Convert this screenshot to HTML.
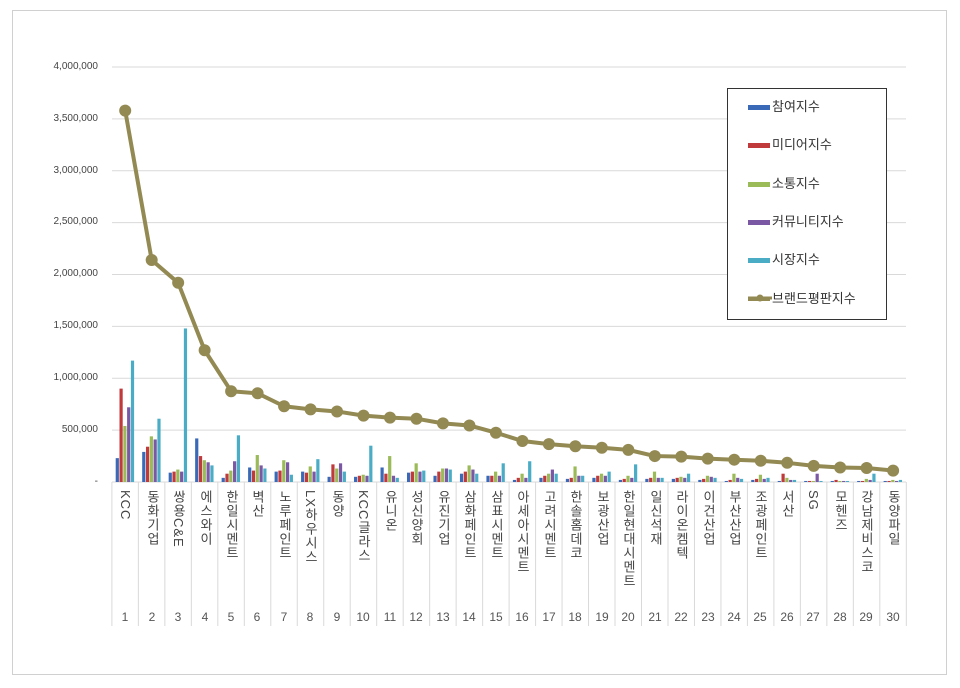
<!DOCTYPE html>
<html><head><meta charset="utf-8"><style>
body{margin:0;background:#fff;width:960px;height:688px;overflow:hidden;font-family:"Liberation Sans","Noto Sans CJK KR",sans-serif}
#frame{position:absolute;left:12px;top:10px;width:935px;height:665px;border:1px solid #d0d0d0;box-sizing:border-box}
.yl{position:absolute;right:862px;font-size:10px;color:#444;text-align:right;line-height:10px}
.cl{position:absolute;top:490px;width:26px;writing-mode:vertical-rl;text-orientation:mixed;font-size:13px;color:#444;line-height:26px;letter-spacing:1px}
.cn{position:absolute;top:610px;width:26px;text-align:center;font-size:12px;color:#555}
#legend{position:absolute;left:727px;top:88px;width:160px;height:232px;border:1px solid #333;background:#fff;box-sizing:border-box}
.li{position:absolute;left:20px;font-size:13px;color:#333;height:16px;line-height:16px}
.sw{display:inline-block;width:22px;height:5px;vertical-align:middle;margin-right:2px}
</style></head><body>
<div id="frame"></div>
<svg id="s" width="960" height="688" style="position:absolute;left:0;top:0"></svg>
<div class="yl" style="top:62px">4,000,000</div>
<div class="yl" style="top:114px">3,500,000</div>
<div class="yl" style="top:166px">3,000,000</div>
<div class="yl" style="top:217px">2,500,000</div>
<div class="yl" style="top:269px">2,000,000</div>
<div class="yl" style="top:321px">1,500,000</div>
<div class="yl" style="top:373px">1,000,000</div>
<div class="yl" style="top:425px">500,000</div>
<div class="yl" style="top:477px">-</div>
<div id="labels"></div>
<div id="legend">
<div class="li" style="top:10px"><span class="sw" style="background:#3a6ab7"></span>참여지수</div>
<div class="li" style="top:48px"><span class="sw" style="background:#c0393b"></span>미디어지수</div>
<div class="li" style="top:87px"><span class="sw" style="background:#9bbb59"></span>소통지수</div>
<div class="li" style="top:125px"><span class="sw" style="background:#7a58a4"></span>커뮤니티지수</div>
<div class="li" style="top:163px"><span class="sw" style="background:#4bacc6"></span>시장지수</div>
<div class="li" style="top:202px"><span class="sw" style="background:#938953;height:3px;position:relative"></span>브랜드평판지수</div>
</div>
<div class="cl" style="left:112px">KCC</div><div class="cl" style="left:139px">동화기업</div><div class="cl" style="left:165px">쌍용C&amp;E</div><div class="cl" style="left:192px">에스와이</div><div class="cl" style="left:218px">한일시멘트</div><div class="cl" style="left:244px">벽산</div><div class="cl" style="left:271px">노루페인트</div><div class="cl" style="left:297px">LX하우시스</div><div class="cl" style="left:324px">동양</div><div class="cl" style="left:350px">KCC글라스</div><div class="cl" style="left:377px">유니온</div><div class="cl" style="left:403px">성신양회</div><div class="cl" style="left:430px">유진기업</div><div class="cl" style="left:456px">삼화페인트</div><div class="cl" style="left:483px">삼표시멘트</div><div class="cl" style="left:509px">아세아시멘트</div><div class="cl" style="left:536px">고려시멘트</div><div class="cl" style="left:562px">한솔홈데코</div><div class="cl" style="left:589px">보광산업</div><div class="cl" style="left:615px">한일현대시멘트</div><div class="cl" style="left:642px">일신석재</div><div class="cl" style="left:668px">라이온켐텍</div><div class="cl" style="left:695px">이건산업</div><div class="cl" style="left:721px">부산산업</div><div class="cl" style="left:747px">조광페인트</div><div class="cl" style="left:774px">서산</div><div class="cl" style="left:800px">SG</div><div class="cl" style="left:827px">모헨즈</div><div class="cl" style="left:853px">강남제비스코</div><div class="cl" style="left:880px">동양파일</div>
<div class="cn" style="left:112px">1</div><div class="cn" style="left:139px">2</div><div class="cn" style="left:165px">3</div><div class="cn" style="left:192px">4</div><div class="cn" style="left:218px">5</div><div class="cn" style="left:244px">6</div><div class="cn" style="left:271px">7</div><div class="cn" style="left:297px">8</div><div class="cn" style="left:324px">9</div><div class="cn" style="left:350px">10</div><div class="cn" style="left:377px">11</div><div class="cn" style="left:403px">12</div><div class="cn" style="left:430px">13</div><div class="cn" style="left:456px">14</div><div class="cn" style="left:483px">15</div><div class="cn" style="left:509px">16</div><div class="cn" style="left:536px">17</div><div class="cn" style="left:562px">18</div><div class="cn" style="left:589px">19</div><div class="cn" style="left:615px">20</div><div class="cn" style="left:642px">21</div><div class="cn" style="left:668px">22</div><div class="cn" style="left:695px">23</div><div class="cn" style="left:721px">24</div><div class="cn" style="left:747px">25</div><div class="cn" style="left:774px">26</div><div class="cn" style="left:800px">27</div><div class="cn" style="left:827px">28</div><div class="cn" style="left:853px">29</div><div class="cn" style="left:880px">30</div>
<script>
var s=document.getElementById('s'),h='';
for(var g=0;g<9;g++){var y=67+g*51.875;h+='<line x1="112" x2="906" y1="'+y+'" y2="'+y+'" stroke="#d9d9d9" stroke-width="1"/>';}
for(var i=0;i<=30;i++){var x=111.9+i*26.48;h+='<line x1="'+x+'" x2="'+x+'" y1="482" y2="626" stroke="#d9d9d9" stroke-width="1"/>';}
var B=[[230,900,540,720,1170],[290,340,440,410,610],[90,100,120,100,1480],[420,250,210,190,160],[40,80,110,200,450],[140,110,260,160,130],[100,110,210,190,70],[100,90,150,100,220],[50,170,130,180,100],[50,60,70,60,350],[140,80,250,60,40],[90,100,180,100,110],[60,100,130,130,120],[80,100,160,120,80],[60,60,100,60,180],[20,40,80,40,200],[40,60,80,120,80],[30,40,150,60,60],[40,60,80,60,100],[20,30,60,40,170],[30,40,100,40,40],[30,40,50,40,80],[20,30,60,50,40],[10,20,80,40,30],[20,30,70,30,40],[10,80,40,20,20],[10,10,10,80,10],[10,20,10,10,10],[10,10,30,20,80],[10,10,20,10,20]];
var C=['#3a6ab7','#c0393b','#9bbb59','#7a58a4','#4bacc6'];
var L=[3580,2140,1920,1270,875,855,730,700,680,640,620,610,565,545,475,395,365,345,330,310,250,245,225,215,205,185,155,140,135,110];
var k=0.10375;
for(var i=0;i<30;i++){var cx=125.2+i*26.48;for(var j=0;j<5;j++){var hh=B[i][j]*k;h+='<rect x="'+(cx-9.5+j*3.8)+'" y="'+(482-hh)+'" width="3.2" height="'+hh+'" fill="'+C[j]+'"/>';}}
var p='';for(var i=0;i<30;i++){p+=(125.2+i*26.48)+','+(482-L[i]*k)+' ';}
h+='<polyline points="'+p+'" fill="none" stroke="#938953" stroke-width="4" stroke-linejoin="round"/>';
for(var i=0;i<30;i++){h+='<circle cx="'+(125.2+i*26.48)+'" cy="'+(482-L[i]*k)+'" r="6" fill="#938953"/>';}
s.innerHTML=h;
</script>
<svg width="960" height="688" style="position:absolute;left:0;top:0;pointer-events:none"><line x1="748" x2="772" y1="298" y2="298" stroke="#938953" stroke-width="3"/><circle cx="760" cy="298" r="3.5" fill="#938953"/></svg>
</body></html>
